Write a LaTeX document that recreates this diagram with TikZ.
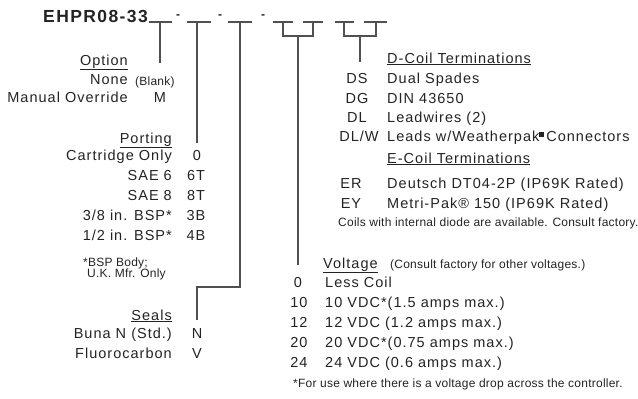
\documentclass[tikz,border=0pt]{standalone}
\usepackage{fontspec}
\setmainfont{Liberation Sans}[LetterSpace=7]
\newfontfamily\notefont{Liberation Sans}[LetterSpace=2]
\newfontfamily\titlefont{Liberation Sans}[LetterSpace=8]
\definecolor{partLine}{RGB}{80,80,80}
\definecolor{partText}{RGB}{35,35,35}
\newcommand{\mainsize}{\fontsize{14.5}{16}\selectfont}
\newcommand{\notesize}{\notefont\fontsize{12}{12}\selectfont}
\newcommand{\regbox}{\raisebox{4.5pt}{\rule{4.5pt}{4.5pt}}}

\begin{document}
\begin{tikzpicture}[x=1pt, y=-1pt,
    lbl/.style={anchor=base east, inner sep=0pt, font=\mainsize, text=partText},
    desc/.style={anchor=base west, inner sep=0pt, font=\mainsize, text=partText},
    code/.style={anchor=base, inner sep=0pt, font=\mainsize, text=partText},
    note/.style={anchor=base west, inner sep=0pt, font=\notesize, text=partText},
    wire/.style={draw=partLine, line width=1.1pt}]
  \useasboundingbox (0,0) rectangle (638,399);

  % part number with its blanks
  \node[anchor=base west, inner sep=0pt, font=\titlefont\fontsize{17.5}{19}\selectfont\bfseries, text=partText]
    (title) at (43,22) {EHPR08-33};
  \node[code, font=\fontsize{12}{12}\selectfont\bfseries] (dashA) at (178,18) {-};
  \node[code, font=\fontsize{12}{12}\selectfont\bfseries] (dashB) at (220,18) {-};
  \node[code, font=\fontsize{12}{12}\selectfont\bfseries] (dashC) at (263,18) {-};

  \coordinate (optBlank) at (160,22);
  \coordinate (portBlank) at (197,22);
  \coordinate (sealBlank) at (240,22);
  \coordinate (voltFork) at (298,36);
  \coordinate (coilFork) at (360,36);

  \draw[wire] (149,22) -- (172,22);
  \draw[wire] (187,22) -- (211,22);
  \draw[wire] (228,22) -- (252,22);
  \draw[wire] (273,22) -- (293,22) (303,22) -- (323,22);
  \draw[wire] (335,22) -- (354,22) (364,22) -- (387,22);
  \draw[wire] (283,22) |- (voltFork) -| (313,22);
  \draw[wire] (344,22) |- (coilFork) -| (376,22);

  % Option
  \node[lbl] (optHdr) at (128,65) {\underline{Option}};
  \node[lbl] (optNone) at (128,84) {None};
  \node[note] (optNoneCode) at (135,85) {(Blank)};
  \node[lbl] (optManual) at (128,102) {Manual Override};
  \node[code] (optM) at (160,102) {M};
  \coordinate (optEnd) at (160,63);
  \draw[wire] (optBlank) -- (optEnd);

  % Porting
  \node[lbl] (portHdr) at (172,143) {\underline{Porting}};
  \node[lbl] (portCart) at (172,160) {Cartridge Only};
  \node[code] (portCartCode) at (197,160) {0};
  \node[lbl] (portSaeSix) at (172,180) {SAE 6};
  \node[code] (portSaeSixCode) at (196,180) {6T};
  \node[lbl] (portSaeEight) at (172,200) {SAE 8};
  \node[code] (portSaeEightCode) at (196,200) {8T};
  \node[lbl] (portBspA) at (172,220) {3/8 in. BSP*};
  \node[code] (portBspACode) at (196,220) {3B};
  \node[lbl] (portBspB) at (172,240) {1/2 in. BSP*};
  \node[code] (portBspBCode) at (196,240) {4B};
  \node[note, align=left] (portNote) at (83,277) {*BSP Body;\\[-1.5pt]\hspace*{4pt}U.K. Mfr. Only};
  \coordinate (portEnd) at (197,143);
  \draw[wire] (portBlank) -- (portEnd);

  % Seals
  \node[lbl] (sealHdr) at (172,320) {\underline{Seals}};
  \node[lbl] (sealBuna) at (172,338) {Buna N (Std.)};
  \node[code] (sealBunaCode) at (197,338) {N};
  \node[lbl] (sealFluoro) at (172,358) {Fluorocarbon};
  \node[code] (sealFluoroCode) at (197,358) {V};
  \coordinate (sealEnd) at (197,320);
  \draw[wire] (sealBlank) |- (197,287) -- (sealEnd);

  % Voltage
  \node[desc] (voltHdr) at (323,268) {\underline{Voltage}};
  \node[note] (voltHdrNote) at (390,268) {(Consult factory for other voltages.)};
  \node[code] (voltZero) at (298,287) {0};
  \node[desc] (voltZeroTxt) at (325,287) {Less Coil};
  \node[code] (voltTen) at (299,307) {10};
  \node[desc] (voltTenTxt) at (325,307) {10 VDC*(1.5 amps max.)};
  \node[code] (voltTwelve) at (299,327) {12};
  \node[desc] (voltTwelveTxt) at (325,327) {12 VDC (1.2 amps max.)};
  \node[code] (voltTwenty) at (299,347) {20};
  \node[desc] (voltTwentyTxt) at (325,347) {20 VDC*(0.75 amps max.)};
  \node[code] (voltTwentyFour) at (299,367) {24};
  \node[desc] (voltTwentyFourTxt) at (325,367) {24 VDC (0.6 amps max.)};
  \node[note] (voltNote) at (293,387) {*For use where there is a voltage drop across the controller.};
  \coordinate (voltEnd) at (298,265);
  \draw[wire] (voltFork) -- (voltEnd);

  % Coil terminations
  \node[desc] (dcoilHdr) at (387,63) {\underline{D-Coil Terminations}};
  \node[code] (dcoilDS) at (357,83) {DS};
  \node[desc] (dcoilDSTxt) at (387,83) {Dual Spades};
  \node[code] (dcoilDG) at (357,103) {DG};
  \node[desc] (dcoilDGTxt) at (387,103) {DIN 43650};
  \node[code] (dcoilDL) at (357,122) {DL};
  \node[desc] (dcoilDLTxt) at (387,122) {Leadwires (2)};
  \node[code] (dcoilDLW) at (359,141) {DL/W};
  \node[desc] (dcoilDLWTxt) at (387,141) {Leads w/Weatherpak\regbox\,Connectors};
  \node[desc] (ecoilHdr) at (387,163) {\underline{E-Coil Terminations}};
  \node[code] (ecoilER) at (351,188) {ER};
  \node[desc] (ecoilERTxt) at (387,188) {Deutsch DT04-2P (IP69K Rated)};
  \node[code] (ecoilEY) at (351,208) {EY};
  \node[desc] (ecoilEYTxt) at (387,208) {Metri-Pak® 150 (IP69K Rated)};
  \node[note] (coilNote) at (338,226) {Coils with internal diode are available. Consult factory.};
  \coordinate (coilEnd) at (360,62);
  \draw[wire] (coilFork) -- (coilEnd);
\end{tikzpicture}
\end{document}
